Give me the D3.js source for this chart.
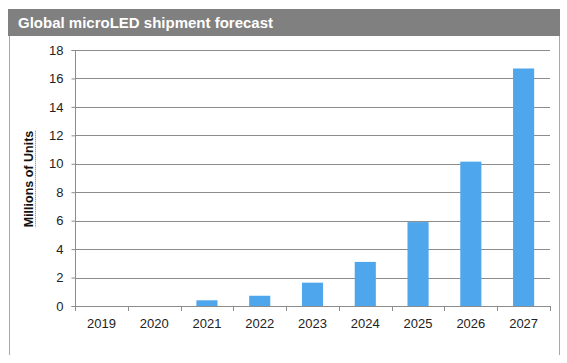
<!DOCTYPE html>
<html><head><meta charset="utf-8">
<script src="https://cdn.jsdelivr.net/npm/d3@7"></script>
<style>body{margin:0;background:#fff;} svg{display:block;font-family:Arial,"Liberation Sans",sans-serif;}</style>
</head><body>
<svg id="c" width="567" height="363"></svg>
<script>
const title = "Global microLED shipment forecast";
const yLabel = "Millions of Units";
const years = ["2019","2020","2021","2022","2023","2024","2025","2026","2027"];
const shipments = [0, 0, 0.4, 0.72, 1.64, 3.1, 5.9, 10.15, 16.7];
const yTicks = [0,2,4,6,8,10,12,14,16,18];

const svg = d3.select("#c");
// frame
svg.append("line").attr("x1",9.5).attr("x2",9.5).attr("y1",36).attr("y2",355).attr("stroke","#a8a8a8");
svg.append("line").attr("x1",559.5).attr("x2",559.5).attr("y1",36).attr("y2",355).attr("stroke","#a8a8a8");
svg.append("rect").attr("x",8).attr("y",9).attr("width",552).attr("height",27).attr("fill","#808080");
svg.append("text").attr("x",18).attr("y",28).attr("fill","#fff").attr("font-weight","bold").attr("font-size",15).text(title);

const x = d3.scaleBand().domain(years).range([75,550]).paddingInner(0.6).paddingOuter(0.3);
const xb = d3.scaleLinear().domain([0, years.length]).range([75,550]);
const y = d3.scaleLinear().domain([0,18]).range([306,50]);

// gridlines
svg.append("g").selectAll("line").data(yTicks.filter(d=>d>0)).join("line")
  .attr("x1",75).attr("x2",550).attr("y1",d=>Math.round(y(d))+0.5).attr("y2",d=>Math.round(y(d))+0.5)
  .attr("stroke","#8c8c8c");

// bars
svg.append("g").selectAll("rect").data(shipments).join("rect")
  .attr("x",(d,i)=>x(years[i])).attr("width",x.bandwidth())
  .attr("y",d=>y(d)).attr("height",d=>y(0)-y(d)).attr("fill","#4ea6ec");

// y axis
const ya = svg.append("g").attr("transform","translate(75.5,0)")
  .call(d3.axisLeft(y).tickValues(yTicks).tickSize(4).tickPadding(8));
ya.select(".domain").attr("stroke","#8c8c8c").attr("d","M-4,306.5H0V50.5H-4");
ya.selectAll(".tick line").attr("stroke","#8c8c8c");
ya.selectAll(".tick text").attr("font-size",13).attr("fill","#222").attr("font-family","Arial,'Liberation Sans',sans-serif");

// x axis
const xa = svg.append("g").attr("transform","translate(0,306.5)")
  .call(d3.axisBottom(x).tickSize(0).tickPadding(12));
xa.select(".domain").attr("stroke","#8c8c8c").attr("d","M75,0H550");
xa.selectAll(".tick text").attr("font-size",13).attr("fill","#222").attr("font-family","Arial,'Liberation Sans',sans-serif");
svg.append("g").selectAll("line").data(d3.range(years.length+1)).join("line")
  .attr("x1",d=>Math.round(xb(d))+0.5).attr("x2",d=>Math.round(xb(d))+0.5)
  .attr("y1",306).attr("y2",311).attr("stroke","#8c8c8c");

// y label
const yl = svg.append("text").attr("transform","translate(33,179) rotate(-90)")
  .attr("text-anchor","middle").attr("font-weight","bold").attr("font-size",12.5).attr("fill","#111").text(yLabel);
const bb = yl.node().getBBox();
svg.append("line").attr("x1",35.5).attr("x2",35.5).attr("y1",179-bb.width/2).attr("y2",179+bb.width/2)
  .attr("stroke","#c06060").attr("stroke-dasharray","1,1").attr("stroke-width",1);
</script>
</body></html>
